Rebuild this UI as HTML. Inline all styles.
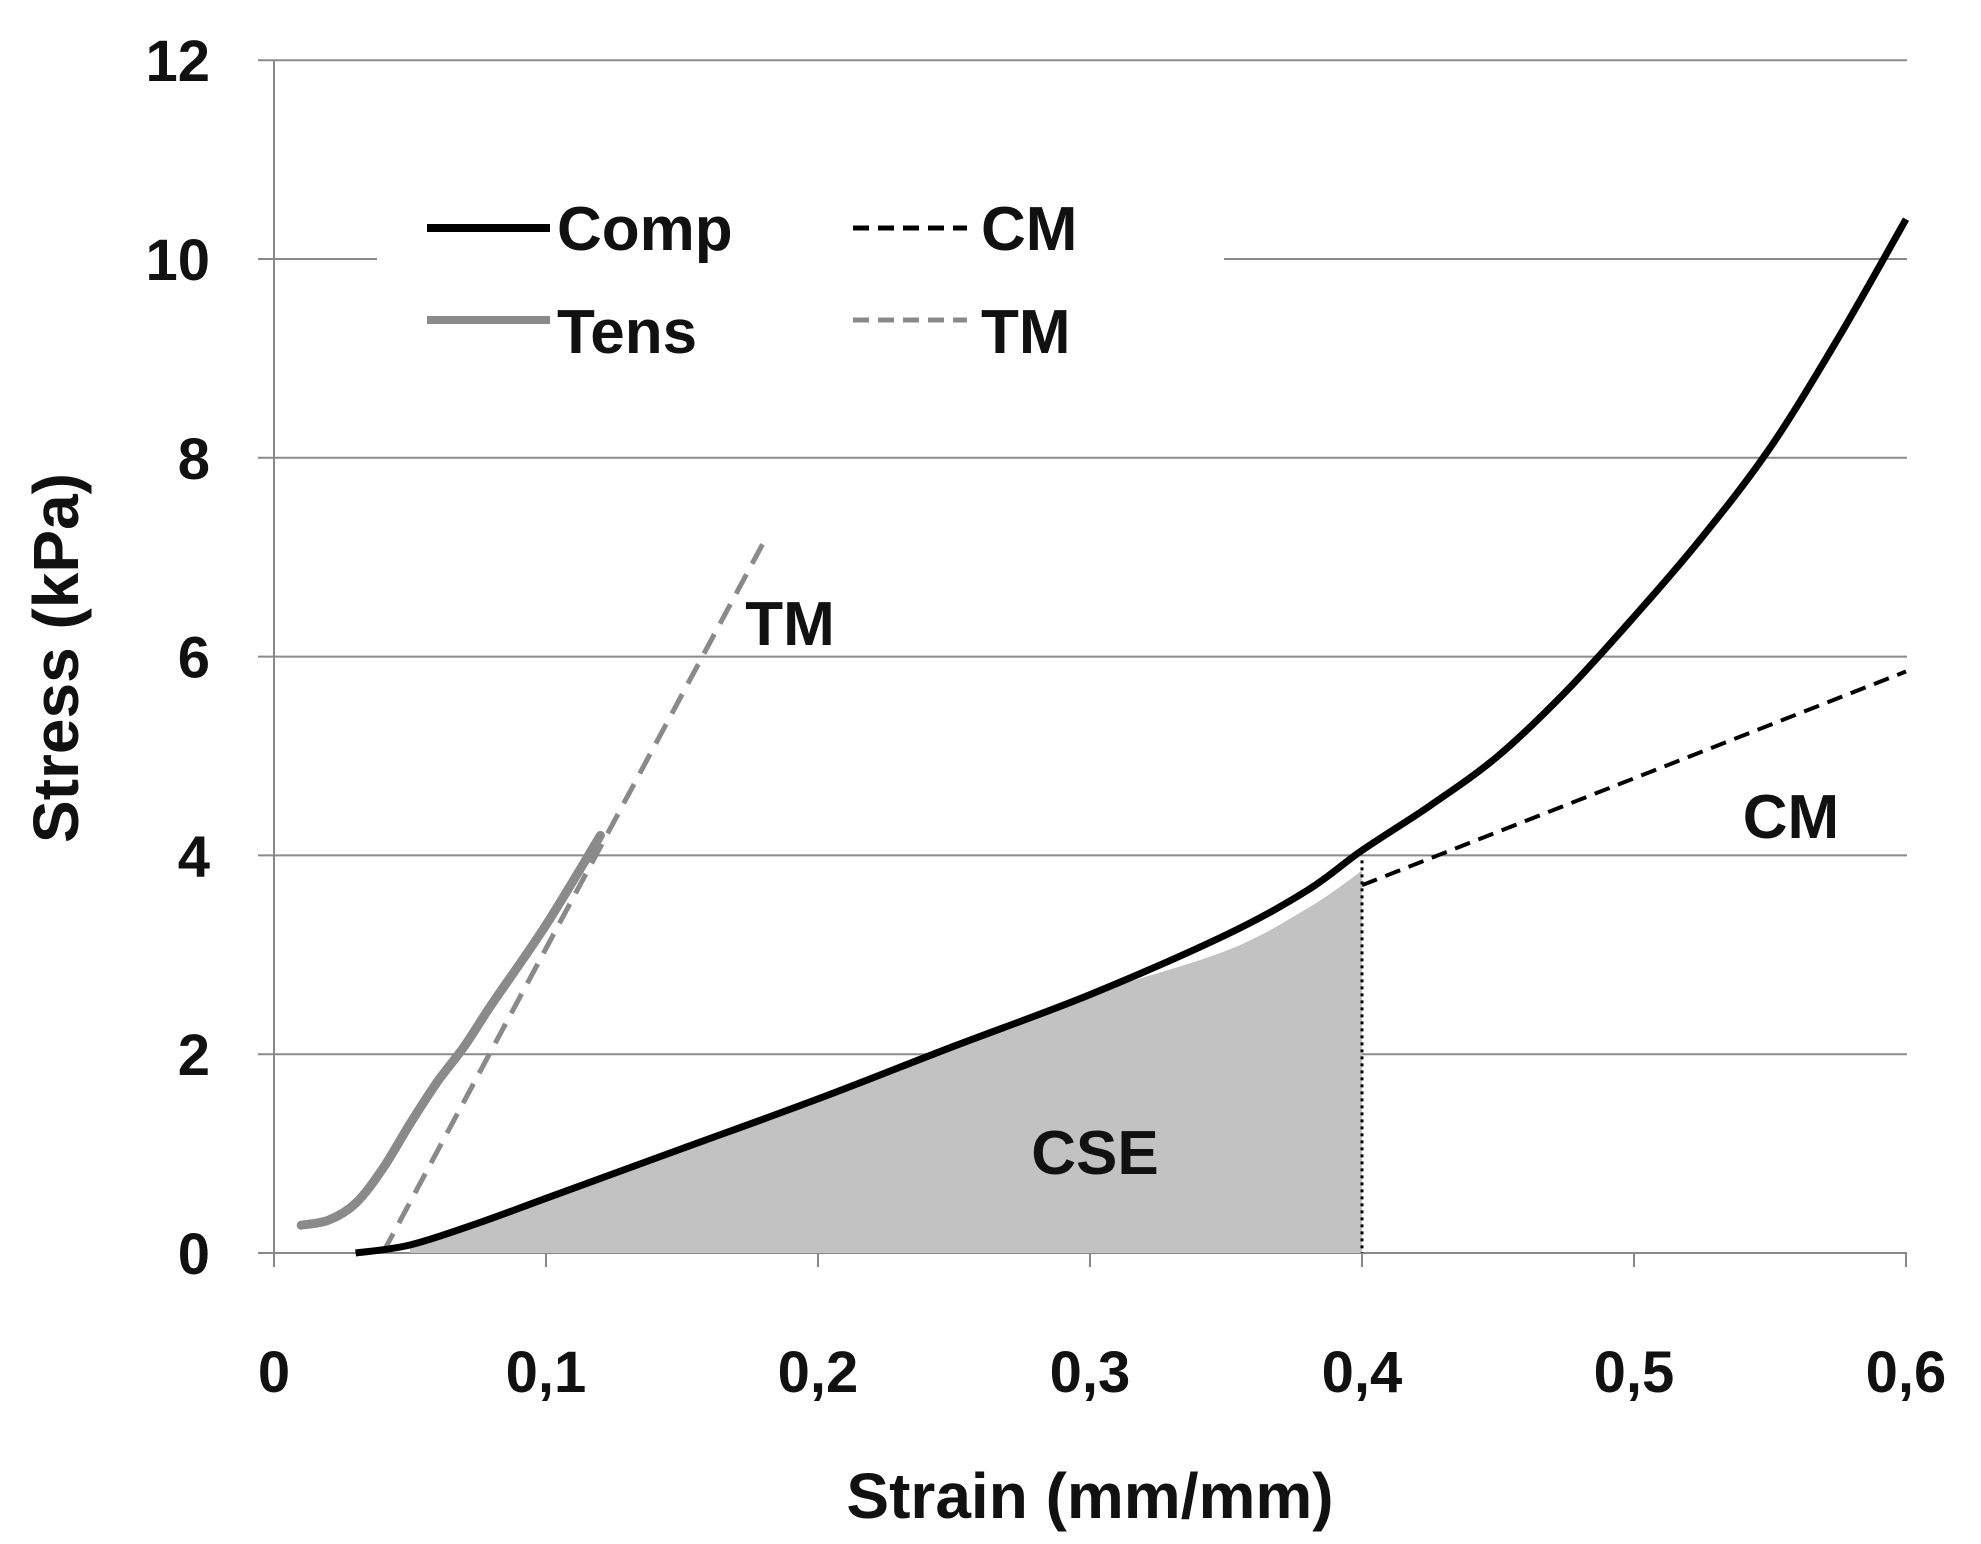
<!DOCTYPE html>
<html><head><meta charset="utf-8"><style>
html,body{margin:0;padding:0;background:#fff;}
svg{display:block;}
text{font-family:"Liberation Sans",sans-serif;font-weight:bold;fill:#111;}
</style></head><body>
<svg id="chart" width="1981" height="1544" viewBox="0 0 1981 1544" xmlns="http://www.w3.org/2000/svg">
<g id="grid"></g>
<g id="marks"></g>
<g id="labels"></g>
<text x="1090" y="1518" font-size="64" text-anchor="middle">Strain (mm/mm)</text>
<text transform="translate(78,658) rotate(-90)" font-size="64" text-anchor="middle">Stress (kPa)</text>
<g>
<rect x="377" y="190" width="847" height="180" fill="#fff"/>
<line x1="427" y1="228" x2="550" y2="228" stroke="#000" stroke-width="8"/>
<text x="557" y="250" font-size="62">Comp</text>
<line x1="427" y1="320" x2="550" y2="320" stroke="#8a8a8a" stroke-width="8"/>
<text x="557" y="353" font-size="62">Tens</text>
<line x1="853" y1="228" x2="967" y2="228" stroke="#000" stroke-width="5" stroke-dasharray="16,9"/>
<text x="981" y="250" font-size="62">CM</text>
<line x1="853" y1="320" x2="967" y2="320" stroke="#8a8a8a" stroke-width="5" stroke-dasharray="16,9"/>
<text x="981" y="353" font-size="62">TM</text>
</g>
</svg>
<script>
const xTicks=[0,0.1,0.2,0.3,0.4,0.5,0.6];
const xTickLabels=["0","0,1","0,2","0,3","0,4","0,5","0,6"];
const yTicks=[0,2,4,6,8,10,12];
const compX=[0.03,0.05,0.075,0.1,0.15,0.2,0.25,0.3,0.35,0.38,0.4,0.425,0.45,0.475,0.5,0.525,0.55,0.575,0.6];
const compY=[0,0.08,0.3,0.55,1.05,1.55,2.08,2.6,3.2,3.65,4.05,4.5,5.0,5.65,6.4,7.2,8.1,9.2,10.4];
const tensX=[0.01,0.02,0.03,0.04,0.05,0.06,0.07,0.08,0.1,0.12];
const tensY=[0.28,0.33,0.5,0.85,1.3,1.72,2.08,2.5,3.3,4.2];
const cmX=[0.4,0.6];
const cmY=[3.7,5.85];
const tmX=[0.04,0.18];
const tmY=[0,7.15];
const cseEnd=0.4;
const NS="http://www.w3.org/2000/svg";
const X=v=>274+v*2720, Y=v=>1253-v*99.4;
function mk(tag,attrs,parent){const e=document.createElementNS(NS,tag);for(const k in attrs)e.setAttribute(k,attrs[k]);parent.appendChild(e);return e;}
const grid=document.getElementById('grid'),marks=document.getElementById('marks'),labels=document.getElementById('labels');
yTicks.forEach(t=>{
 const l=mk('line',{x1:258,x2:1907,y1:Y(t),y2:Y(t),stroke:'#8a8a8a','stroke-width':2},grid);
 
 
 const tx=mk('text',{x:210,y:Y(t)+21,'font-size':58,'text-anchor':'end'},labels);
 tx.textContent=String(t);
 
 
});
mk('line',{x1:X(0),x2:X(0),y1:Y(12),y2:Y(0)+14,stroke:'#8a8a8a','stroke-width':2},grid);
xTicks.forEach((t,i)=>{
 const l=mk('line',{x1:X(t),x2:X(t),y1:Y(0),y2:Y(0)+14,stroke:'#8a8a8a','stroke-width':2},grid);
 
 
 const tx=mk('text',{x:X(t),y:1392,'font-size':58,'text-anchor':'middle'},labels);
 tx.textContent=xTickLabels[i];
 
 
});
function smooth(xs,ys){
 const p=xs.map((x,i)=>[X(x),Y(ys[i])]);
 let d='M'+p[0][0].toFixed(1)+','+p[0][1].toFixed(1);
 for(let i=0;i<p.length-1;i++){
  const p0=p[Math.max(0,i-1)],p1=p[i],p2=p[i+1],p3=p[Math.min(p.length-1,i+2)];
  const c1=[p1[0]+(p2[0]-p0[0])/6,p1[1]+(p2[1]-p0[1])/6];
  const c2=[p2[0]-(p3[0]-p1[0])/6,p2[1]-(p3[1]-p1[1])/6];
  d+=' C'+c1.map(v=>v.toFixed(1)).join(',')+' '+c2.map(v=>v.toFixed(1)).join(',')+' '+p2[0].toFixed(1)+','+p2[1].toFixed(1);
 }
 return d;
}
function pts(xs,ys){return 'M'+xs.map((x,i)=>X(x).toFixed(1)+','+Y(ys[i]).toFixed(1)).join(' L');}
// CSE fill
let fx=[],fy=[];
compX.forEach((x,i)=>{if(x>=0.05&&x<=cseEnd){fx.push(x);fy.push(compY[i]*(x>0.32?0.95:1));}});
const area=mk('path',{d:smooth(fx,fy)+' L'+X(cseEnd)+','+Y(0)+' L'+X(0.05)+','+Y(0)+' Z',fill:'#c2c2c2'},marks);


const dl=mk('line',{x1:X(cseEnd),x2:X(cseEnd),y1:Y(3.95),y2:Y(0),stroke:'#000','stroke-width':3,'stroke-dasharray':'3,4'},marks);


const tm=mk('path',{d:pts(tmX,tmY),fill:'none',stroke:'#8a8a8a','stroke-width':5,'stroke-dasharray':'22,12'},marks);


const tens=mk('path',{d:smooth(tensX,tensY),fill:'none',stroke:'#8a8a8a','stroke-width':9,'stroke-linejoin':'round','stroke-linecap':'round'},marks);


const cm=mk('path',{d:pts(cmX,cmY),fill:'none',stroke:'#000','stroke-width':4,'stroke-dasharray':'16,9'},marks);


const comp=mk('path',{d:smooth(compX,compY),fill:'none',stroke:'#000','stroke-width':7,'stroke-linejoin':'round'},marks);


[['TM',790,645,'tm-annotation'],['CM',1791,838,'cm-annotation'],['CSE',1095,1174,'cse-annotation']].forEach(a=>{
 const t=mk('text',{x:a[1],y:a[2],'font-size':62,'text-anchor':'middle'},marks);
 t.textContent=a[0];
 
 
});
</script>
</body></html>
